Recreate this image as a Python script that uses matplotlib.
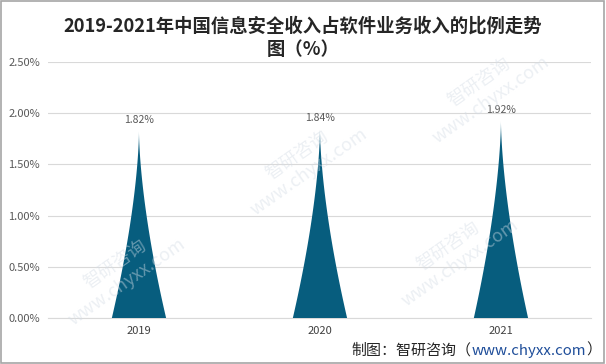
import numpy as np
import matplotlib.pyplot as plt
from matplotlib.patches import Polygon, Rectangle

plt.rcParams['font.family'] = ['Noto Sans CJK SC', 'DejaVu Sans']

years = ['2019', '2020', '2021']
ratios = [1.82, 1.84, 1.92]
labels = ['1.82%', '1.84%', '1.92%']
yticks = [0, 0.5, 1.0, 1.5, 2.0, 2.5]
ytick_labels = ['0.00%', '0.50%', '1.00%', '1.50%', '2.00%', '2.50%']

fig = plt.figure(figsize=(6.06, 3.64), dpi=100)
ax = fig.add_axes([0.08, 0.126, 0.896, 0.704])

half = 0.15
t = np.linspace(0, 1, 80)
for i, v in enumerate(ratios):
    # spike with concave sides
    w = half * (1 - t) ** 1.6
    xs = np.concatenate([i - w, (i + w)[::-1]])
    ys = np.concatenate([t * v, (t * v)[::-1]])
    ax.add_patch(Polygon(np.column_stack([xs, ys]), closed=True,
                         facecolor='#075d7e', edgecolor='none', zorder=3))
    ax.text(i, v + 0.06, labels[i], ha='center', va='bottom',
            fontsize=7.5, color='#595959')

ax.set_xlim(-0.5, 2.5)
ax.set_ylim(0, 2.5)
ax.set_xticks(range(3))
ax.set_xticklabels(years, fontsize=8, color='#404040')
ax.set_yticks(yticks)
ax.set_yticklabels(ytick_labels, fontsize=8, color='#595959')
ax.tick_params(length=0, pad=6)
ax.grid(axis='y', color='#d9d9d9', linewidth=0.8)
ax.set_axisbelow(True)
for s in ['top', 'right', 'left']:
    ax.spines[s].set_visible(False)
ax.spines['bottom'].set_color('#d9d9d9')

fig.text(0.5, 0.928, '2019-2021年中国信息安全收入占软件业务收入的比例走势', ha='center',
         va='center', fontsize=13.2, fontweight='bold', color='#262626')
fig.text(0.5, 0.865, '图（%）', ha='center', va='center', fontsize=13.2,
         fontweight='bold', color='#262626')

# faint watermark
for (x, y) in [(0.2, 0.25), (0.5, 0.55), (0.8, 0.75), (0.75, 0.3)]:
    fig.text(x, y, '智研咨询\nwww.chyxx.com', fontsize=13, color='#d5dde6', alpha=0.45,
             rotation=35, ha='center', va='center', zorder=0)

# source line, url in blue
fig.canvas.draw()
r = fig.canvas.get_renderer()
parts = [('制图：智研咨询（', '#262626'), ('www.chyxx.com', '#1f4e9a'), ('）', '#262626')]
objs = [fig.text(0, 0.037, p, ha='left', va='center', fontsize=10.8, color=c) for p, c in parts]
widths = [o.get_window_extent(r).width / fig.bbox.width for o in objs]
x = 0.992 - sum(widths)
for o, w in zip(objs, widths):
    o.set_x(x)
    x += w

fig.patches.append(Rectangle((0.002, 0.003), 0.995, 0.994, transform=fig.transFigure,
                             fill=False, edgecolor='#a6a6a6', linewidth=1.2))

fig.savefig('out.png', dpi=100)
